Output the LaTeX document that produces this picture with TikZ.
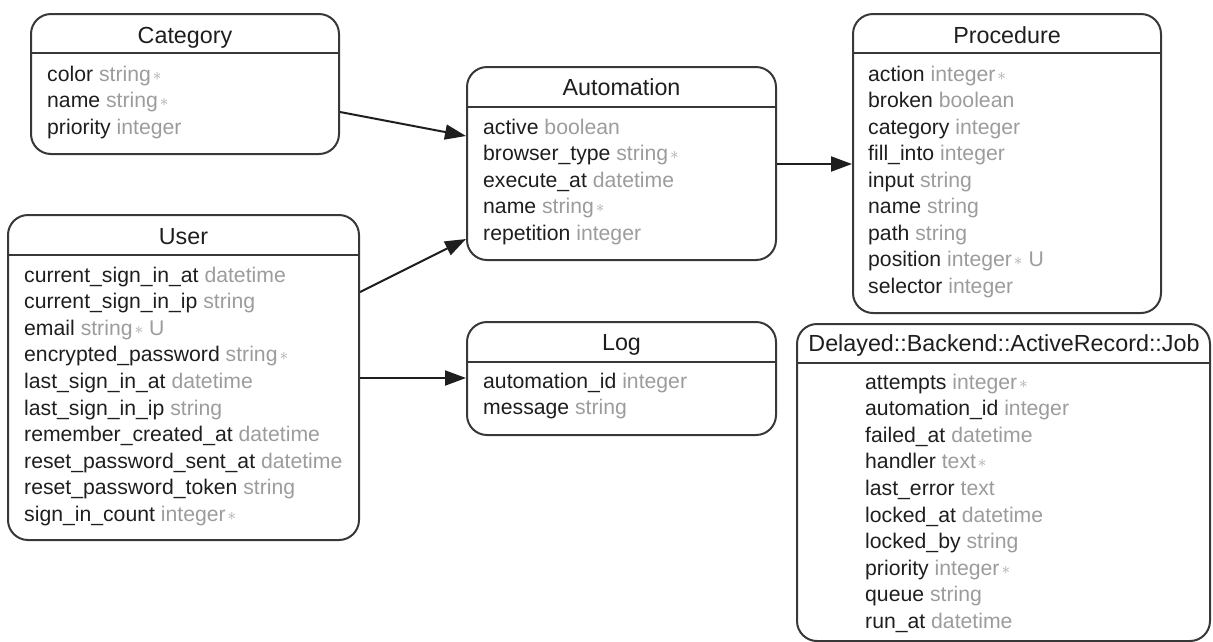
\documentclass[tikz,border=0pt]{standalone}
\usepackage{fontspec}
\setmainfont{Liberation Sans}
\usetikzlibrary{arrows.meta,positioning}

\definecolor{ink}{HTML}{1E1E1E}
\definecolor{typegray}{HTML}{9C9C9C}
\definecolor{stargray}{HTML}{A6A6A6}
\definecolor{framegray}{HTML}{383838}
\newcommand{\req}{\hspace{2pt}{\color{stargray}\fontsize{17}{17}\selectfont\raisebox{1pt}{$\ast$}}}
\newcommand{\uniq}{\ U}

\begin{document}
\begin{tikzpicture}[
    x=1pt, y=-1pt,
    entity/.style={
        draw=framegray, line width=2pt,
        rounded corners=20pt,
        inner sep=0pt
    },
    rule/.style={draw=framegray, line width=2pt},
    title/.style={
        anchor=base, inner sep=0pt, text=ink,
        font=\fontsize{23.3}{28}\selectfont
    },
    field/.style={
        anchor=base west, inner sep=0pt, text=ink,
        font=\fontsize{21.2}{25}\selectfont
    },
    link/.style={
        draw=ink, line width=2pt,
        -{Triangle[length=21pt,width=15pt]}
    }
]
\useasboundingbox (0,0) rectangle (1213,641);

% tables
\node[entity, minimum width=308pt, minimum height=140pt] (category) at (185,84) {};
\node[entity, minimum width=309pt, minimum height=193pt] (automation) at (621.5,163.5) {};
\node[entity, minimum width=308pt, minimum height=299pt] (procedure) at (1007,163.5) {};
\node[entity, minimum width=351pt, minimum height=325pt] (user) at (183.5,377.5) {};
\node[entity, minimum width=309pt, minimum height=113pt] (log) at (621.5,378.5) {};
\node[entity, minimum width=413pt, minimum height=317pt] (job) at (1003.5,482.5) {};

% header lines
\draw[rule] (category.west |- 0,53) -- (category.east |- 0,53);
\draw[rule] (automation.west |- 0,107) -- (automation.east |- 0,107);
\draw[rule] (procedure.west |- 0,53) -- (procedure.east |- 0,53);
\draw[rule] (user.west |- 0,255) -- (user.east |- 0,255);
\draw[rule] (log.west |- 0,362) -- (log.east |- 0,362);
\draw[rule] (job.west |- 0,363) -- (job.east |- 0,363);

% titles
\node[title] (category-title) at (185,43) {Category};
\node[title] (automation-title) at (621.5,95) {Automation};
\node[title] (procedure-title) at (1007,43) {Procedure};
\node[title] (user-title) at (183.5,244) {User};
\node[title] (log-title) at (621.5,350) {Log};
\node[title] (job-title) at (1004,351) {Delayed::Backend::ActiveRecord::Job};

% fields
\foreach \f/\t [count=\i] in {color/string\req, name/string\req, priority/integer}
  \node[field] (category-\i) at (47,{81+26.5*(\i-1)}) {\f\ \textcolor{typegray}{\t}};

\foreach \f/\t [count=\i] in {active/boolean, browser\_type/string\req,
    execute\_at/datetime, name/string\req, repetition/integer}
  \node[field] (automation-\i) at (483,{134+26.5*(\i-1)}) {\f\ \textcolor{typegray}{\t}};

\foreach \f/\t [count=\i] in {action/integer\req, broken/boolean, category/integer,
    fill\_into/integer, input/string, name/string, path/string,
    position/integer\req\uniq, selector/integer}
  \node[field] (procedure-\i) at (868,{81+26.5*(\i-1)}) {\f\ \textcolor{typegray}{\t}};

\foreach \f/\t [count=\i] in {current\_sign\_in\_at/datetime,
    current\_sign\_in\_ip/string, email/string\req\uniq,
    encrypted\_password/string\req, last\_sign\_in\_at/datetime,
    last\_sign\_in\_ip/string, remember\_created\_at/datetime,
    reset\_password\_sent\_at/datetime, reset\_password\_token/string,
    sign\_in\_count/integer\req}
  \node[field] (user-\i) at (24,{282+26.6*(\i-1)}) {\f\ \textcolor{typegray}{\t}};

\foreach \f/\t [count=\i] in {automation\_id/integer, message/string}
  \node[field] (log-\i) at (483,{388+26.5*(\i-1)}) {\f\ \textcolor{typegray}{\t}};

\foreach \f/\t [count=\i] in {attempts/integer\req, automation\_id/integer,
    failed\_at/datetime, handler/text\req, last\_error/text,
    locked\_at/datetime, locked\_by/string, priority/integer\req,
    queue/string, run\_at/datetime}
  \node[field] (job-\i) at (865,{389+26.6*(\i-1)}) {\f\ \textcolor{typegray}{\t}};

% relations
\draw[link] (category.east |- 0,112) -- (automation.west |- 0,136);
\draw[link] (user.east |- 0,292) -- (automation.west |- 0,239);
\draw[link] (user.east |- 0,378) -- (log.west |- 0,378);
\draw[link] (automation.east |- 0,164) -- (procedure.west |- 0,164);
\end{tikzpicture}
\end{document}
